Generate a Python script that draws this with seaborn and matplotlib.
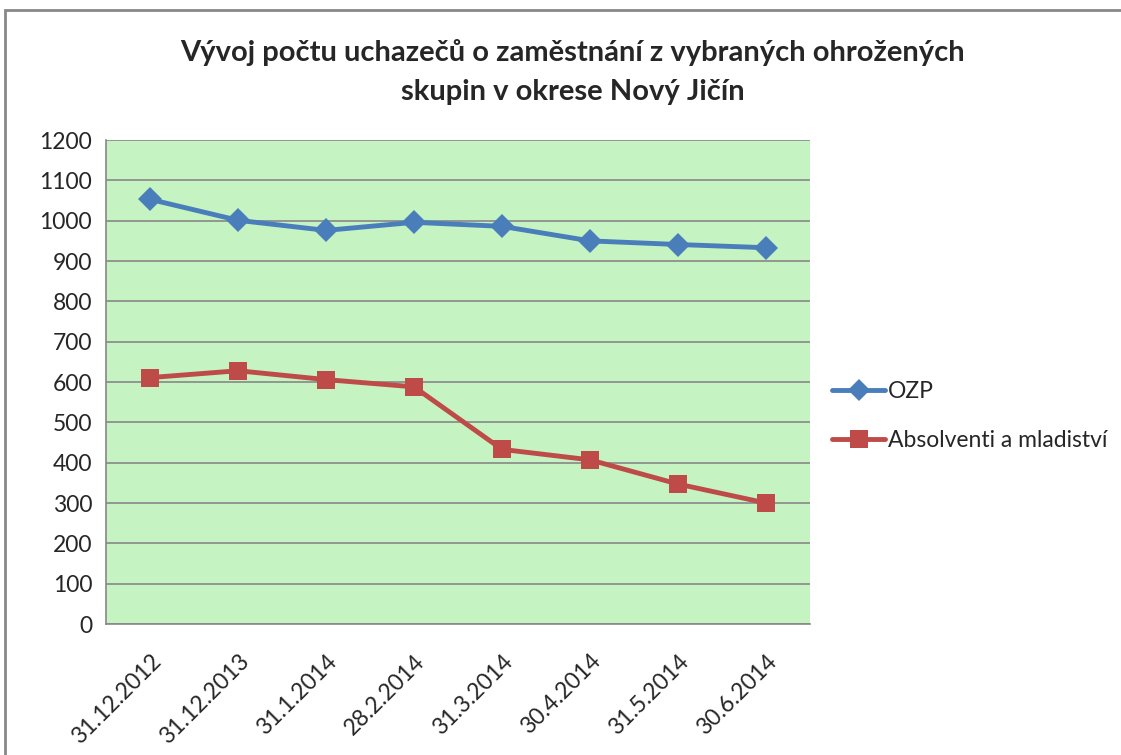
import numpy as np
import pandas as pd
import matplotlib
matplotlib.use("Agg")
import matplotlib.pyplot as plt
from matplotlib.patches import Rectangle
import seaborn as sns

# Data
dates = ["31.12.2012", "31.12.2013", "31.1.2014", "28.2.2014",
         "31.3.2014", "30.4.2014", "31.5.2014", "30.6.2014"]
ozp = [1053, 1001, 976, 996, 986, 950, 941, 933]
absolventi = [611, 628, 606, 588, 433, 407, 347, 300]
series_names = ["OZP", "Absolventi a mladiství"]

df = pd.DataFrame({
    "pos": list(range(len(dates))) * 2,
    "value": ozp + absolventi,
    "series": [series_names[0]] * len(dates) + [series_names[1]] * len(dates),
})

sns.set_style("white")
plt.rcParams["font.family"] = ["Lato", "DejaVu Sans"]

fig = plt.figure(figsize=(11.21, 7.55), dpi=100)
ax = fig.add_axes([0.0946, 0.1735, 0.628, 0.641])

palette = {series_names[0]: "#4A7EBB", series_names[1]: "#BE4B48"}
markers = {series_names[0]: "D", series_names[1]: "s"}
sns.lineplot(data=df, x="pos", y="value", hue="series", style="series",
             palette=palette, markers=markers, dashes=False,
             linewidth=3.5, markersize=13, markeredgewidth=0,
             ax=ax, legend=False)

# diamonds a bit smaller than squares
for ln in ax.get_lines():
    if ln.get_marker() == "D":
        ln.set_markersize(12)

ax.set_facecolor("#C5F3C1")
ax.set_xlim(-0.5, len(dates) - 0.5)
ax.set_ylim(0, 1200)
ax.set_yticks(range(0, 1201, 100))
ax.yaxis.grid(True, color="#888888", linewidth=1.2)
ax.set_axisbelow(True)

ax.set_xticks(range(len(dates)))
ax.set_xticklabels(dates, rotation=45, ha="right", rotation_mode="anchor", fontsize=16.5)
ax.set_xticks(np.arange(-0.5, len(dates), 1), minor=True)
ax.tick_params(axis="x", which="major", length=0, pad=19)
ax.tick_params(axis="x", which="minor", length=6, color="#888888", width=1)
ax.tick_params(axis="y", length=6, color="#888888", width=1, labelsize=16.5, pad=4)
ax.set_xlabel("")
ax.set_ylabel("")

for s in ["top", "right"]:
    ax.spines[s].set_visible(False)
for s in ["left", "bottom"]:
    ax.spines[s].set_color("#888888")
    ax.spines[s].set_linewidth(1.2)

# chart border
fig.patches.append(Rectangle((0.0045, -0.05), 1.2, 0.9868 + 0.05,
                             transform=fig.transFigure, fill=False,
                             edgecolor="#888888", linewidth=2))

fig.text(0.511, 0.931, "Vývoj počtu uchazečů o zaměstnání z vybraných ohrožených",
         ha="center", va="center", fontsize=21, fontweight="bold")
fig.text(0.511, 0.878, "skupin v okrese Nový Jičín",
         ha="center", va="center", fontsize=21, fontweight="bold")

handles = [plt.Line2D([], [], color=palette[n], marker=markers[n], linewidth=3.5,
                      markersize=11 if markers[n] == "D" else 13, markeredgewidth=0)
           for n in series_names]
fig.legend(handles, series_names, loc="center left", bbox_to_anchor=(0.724, 0.449),
           frameon=False, fontsize=16.5, handlelength=2.3, handletextpad=0.15,
           labelspacing=1.2)

fig.savefig("out.png", dpi=100)
